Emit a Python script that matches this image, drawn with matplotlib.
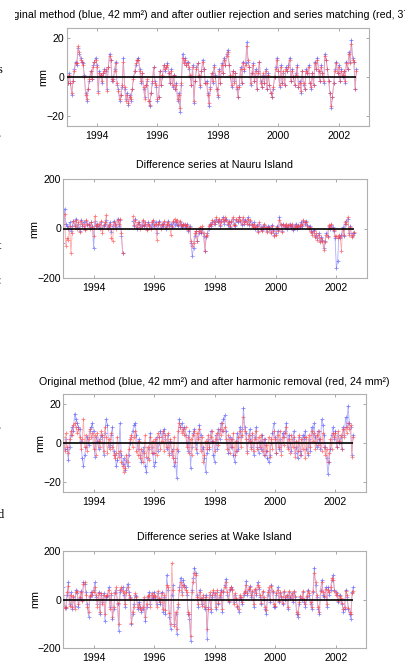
import matplotlib.pyplot as plt
import numpy as np
from matplotlib.transforms import Bbox, TransformedBbox

plt.rcParams['font.family'] = ['Liberation Sans', 'DejaVu Sans']

nan = np.nan

# samples every half month, first one at 1993.0
t_start = 1993.0
per_year = 24

# original method (blue), same series in panel 1 and 3, mm
orig = [0, -3, 2, -3, -9, -2, 4, 8, 6, 15, 12, 10, 8, 7, 1, -8, -12, -6, -2, 3, -1, 6, 8, 10,
        6, -7, 3, 1, -3, 2, 4, 3, -6, 5, 12, 9, -2, -1, 4, 8, -4, -6, -12, -9, -5, 10, -6, -11,
        -8, -14, -9, -12, -6, 0, 3, 6, 9, 10, 4, -3, 2, -6, -10, -4, -2, -12, -15, -8, -3, 5, -2, -5,
        -12, -10, 3, -4, 0, 6, 3, 5, 7, 2, -3, 4, -5, 1, -6, -3, -12, -8, -18, -4, 12, 8, 10, 6,
        8, 4, 0, -4, 6, -13, -2, 5, 7, 0, -5, 3, 9, 4, -3, -2, -8, -15, -5, 2, -3, 6, 1, -6,
        -10, 4, -3, 7, 2, 10, 6, 12, 14, 6, 0, -5, 3, -2, 2, -6, -10, -4, 5, -3, 8, 3, 7, 18,
        8, 5, -4, 2, 7, -2, 4, -6, 3, 8, -2, -5, 1, -3, 4, -6, 2, -4, -8, -10, -6, 0, 5, 10,
        3, -5, 6, -3, 2, -4, 5, 3, 6, 10, -2, 4, 0, -4, 2, 6, -5, -2, -8, 3, -4, -6, 4, 2,
        6, -3, -6, 2, -4, 8, 4, 10, 3, -2, 6, 2, -3, 12, 9, 4, -2, -8, -16, -10, -3, 4, 8, 2,
        6, -2, 4, 0, 3, -3, 8, 4, 13, 8, 19, 10, 8, -6, 4]

# after outlier rejection and series matching (red, panel 1)
matched = [-2, -3, 1, -3, -8, -2, 3, 7, 7, 16, 13, 9, 8, 6, 0, -9, -11, -6, -1, 3, -1, 5, 8, 9,
           5, -8, 2, 1, -2, 2, 3, 4, -7, 5, 11, 9, -1, -2, 3, 7, -3, -7, -11, -9, -4, 8, -5, -12,
           -9, -13, -10, -11, -6, -1, 3, 7, 9, 9, 3, -2, 2, -5, -11, -4, -1, -12, -14, -8, -2, 5, -3, -4,
           -11, -10, 3, -4, 1, 6, 4, 5, 6, 2, -3, 3, -4, 1, -6, -4, -11, -9, -16, -3, 10, 7, 9, 6,
           7, 5, 1, -4, 5, -12, -2, 4, 7, 1, -4, 3, 8, 4, -3, -3, -9, -13, -6, 2, -2, 5, 0, -6,
           -9, 3, -3, 6, 2, 9, 6, 11, 13, 6, 1, -4, 3, -3, 2, -5, -10, -5, 4, -3, 7, 4, 6, 16,
           9, 5, -3, 2, 6, -2, 3, -6, 2, 8, -3, -5, 2, -3, 3, -6, 1, -4, -8, -10, -5, 0, 4, 9,
           3, -4, 5, -3, 3, -4, 4, 3, 5, 9, -2, 3, 0, -4, 1, 5, -5, -3, -7, 3, -3, -6, 3, 2,
           5, -3, -5, 2, -4, 7, 4, 9, 3, -2, 5, 2, -2, 11, 9, 4, -2, -8, -15, -10, -3, 3, 7, 2,
           5, -2, 3, 1, 3, -2, 7, 4, 12, 7, 17, 9, 8, -6, 3]

# after harmonic removal (red, panel 3)
harmonic = [3, -4, 5, -2, -5, 2, 6, 4, 9, 10, 8, 5, 7, 3, -3, 2, 12, -2, 4, -4, 2, 7, 3, 5,
            -3, 4, -6, 5, 1, -2, 6, 4, -4, 8, 3, -5, 2, -3, 5, -2, -6, -8, -5, 3, -7, -4, -10, -12,
            -15, -13, -6, -10, -3, 2, 4, -2, 3, 6, -4, -6, 1, -8, -3, -10, -5, 4, -7, -2, -9, 3, -5, 1,
            -5, 2, -6, 5, 3, -3, 1, 6, -4, 4, -2, 5, -6, 2, -4, -8, 3, -10, -3, 6, 10, 8, 5, 7,
            4, 8, -2, 3, -5, 2, -6, 4, 6, -3, 5, 2, 7, -4, 3, -10, -6, 1, -3, 4, -2, 3, 6, 1,
            -4, 2, 5, -1, 7, 4, 10, 6, 8, 2, -3, 4, -5, 2, -2, 5, -6, 1, -4, 3, 6, -2, 4, 13,
            6, 2, -5, 4, 1, -3, 5, -4, 2, 6, -3, 3, -2, 4, -4, 2, -6, -1, -4, 3, -7, 2, -3, 6,
            2, -5, 4, -2, 6, -6, 3, -1, 5, 8, -3, 2, -5, 4, -2, 3, -7, 1, -4, 4, -6, 2, -3, 3,
            -8, 3, -5, 4, -2, 6, 1, 5, -3, 4, -1, 6, 2, -4, 5, -2, -6, -3, -10, -5, 2, -3, 5, 3,
            5, -2, 6, 1, 4, -3, 7, 3, 8, 5, 10, 7, 9, -7, 3]

# difference series at Nauru Island, mm (gap early 1995)
nauru_orig = [-60, 80, 20, 10, 0, 25, -10, 10, 30, 15, 40, 5, 20, -10, 35, 10, 25, 0, 30, 15, 20, 5, 25, 10,
              -80, 30, 10, 20, 5, 15, 25, 0, 10, 20, 35, 5, 15, 25, -15, 10, 30, 20, 5, 40, 10, 35, -30, -100,
              nan, nan, nan, nan, nan, nan, nan, 30, 10, 40, 0, 20, 25, 5, 15, 30, 10, 20, 0, 25, 15, 5, 20, 30,
              10, 25, -20, 15, 30, 5, 20, 10, 25, 0, 15, 30, 10, 20, 5, 25, 15, 30, 20, 10, 25, 15, 5, 20,
              15, 5, 20, -10, 10, -60, -110, -80, -30, -10, -50, -20, 0, -20, 0, -30, -90, -35, -20, 0, 20, 10, 25, 30,
              20, 40, 25, 35, 10, 30, 45, 20, 35, 40, 15, 30, 5, 25, 40, 20, 10, 35, 25, 45, 30, 15, 40, 20,
              35, 25, 45, 15, 30, 20, 10, 25, 0, 15, -10, 20, 5, -5, 10, 15, 0, -10, 10, 5, -15, 15, -5, -25,
              -20, 10, -5, 45, 15, -10, 20, 5, 15, 0, 10, 20, 5, 15, -5, 10, 20, 0, 15, 5, 25, 10, 30, 20,
              30, 15, 5, 10, -10, -20, -5, -30, -25, -40, -20, -50, -35, -45, -80, -50, -20, -30, 10, 0, 15, 5, -10, -40,
              -160, -130, -30, -40, -25, 5, -30, 20, 30, 40, -20, 10, -30, -20, -20]

nauru_new = [20, 60, -70, -40, -45, 10, -100, -20, 30, 10, 35, 0, 25, -15, 30, 20, 10, -5, 35, 20, 15, 0, 25, 5,
             -30, 50, 15, 10, 20, 0, 30, -20, 15, 25, 55, 0, 10, 20, -40, -50, 25, 15, 0, 35, 20, 40, -20, -100,
             nan, nan, nan, nan, nan, nan, nan, 50, 15, 35, 5, 25, 20, 0, 10, 35, 15, 25, -5, 20, 10, 0, 25, 35,
             15, 20, -45, 20, 25, 0, 15, 20, 30, 5, 20, 25, 15, -25, 10, 30, 40, 25, 35, 15, 30, 20, 10, 15,
             20, 10, 15, -5, 5, -50, -70, -60, -20, -10, -50, -10, 5, -15, 10, -20, -90, -30, -25, 10, 15, 20, 35, 20,
             25, 45, 30, 40, 15, 25, 40, 30, 45, 35, 20, 25, 10, 30, 45, 15, 15, 40, 30, 45, 35, 20, 45, 25,
             30, 20, 40, 20, 35, 15, 5, 20, 5, 10, -15, 25, 0, -10, 5, 20, 5, -15, 5, 0, -20, 10, -10, -30,
             -25, 5, -10, 35, 20, -15, 15, 10, 20, 5, 15, 15, 10, 20, 0, 5, 15, 5, 10, 10, 20, 15, 35, 25,
             25, 10, 0, 5, -15, -25, -10, -35, -20, -45, -25, -55, -40, -50, -85, -55, -25, -35, 15, 5, 20, 0, -5, -30,
             -30, -40, -25, -35, -90, 0, -25, 25, 20, 45, -25, 5, -35, -25, -15]

# difference series at Wake Island, mm
wake_orig = [50, -30, -35, 20, 70, -20, 30, -40, 10, -25, 40, 25, -30, 5, 35, 0, 70, 65, 30, -20, -70, 10, 30, 20,
             40, 70, 10, -20, 30, -60, 20, -10, 25, -90, 10, 15, 50, -30, 20, -80, -40, 30, 40, -20, -130, 30, 45, 50,
             20, -30, 40, 65, 30, 10, -100, -60, -20, 20, 15, -40, -10, -30, -50, -40, 0, -90, -30, 10, 30, -20, 20, 5,
             30, 10, -20, 25, 0, -20, 30, -50, 10, -60, 100, 40, -70, -120, 20, 60, -100, -60, -140, -30, 50, 90, 30, 80,
             60, 50, 20, -60, -80, -170, 40, 90, 130, 110, 20, -30, 40, 0, -20, 10, -40, 20, -160, -30, 20, -50, 10, 30,
             20, -40, 30, -20, 10, 40, -50, 30, 60, 85, 20, -10, 40, 50, 45, -10, 20, 0, -30, -50, 10, 0, -20, 20,
             30, 75, 20, 40, 55, 10, 30, -30, 40, 20, 70, 45, 10, -20, 30, 0, -40, -60, 20, 40, -10, 60, 30, -30,
             -30, 20, 50, -10, 25, 10, -20, 30, 0, 15, -40, 30, 5, 20, -10, 30, 10, -60, -70, -20, 10, 0, 30, -10,
             -30, 10, 40, 20, -20, -40, 30, 130, 60, 10, -40, -60, 40, 80, 20, 10, 50, -30, 50, 20, 40, 80, 100, 40,
             30, 20, -10, 20, 0, -20, -50, -40, 40, 10, -40, -60, -80, 30, 50]

wake_new = [20, -35, -30, 30, 55, -25, 20, -30, 15, -40, 30, 35, -20, 10, 30, -5, 65, 70, 20, -30, -50, 15, 20, 30,
            30, 50, 20, -30, 25, -50, 25, -20, 20, -60, 15, 20, 40, -40, 25, -70, -30, 25, 50, -15, -100, 40, 50, 35,
            25, -20, 30, 50, 20, 5, -95, -50, -30, 25, 10, -30, -20, -35, -45, -30, 10, -70, -20, 15, 20, -30, 25, 10,
            20, 15, -30, 35, 5, -10, 25, -40, 20, -45, 60, 50, -55, -100, 150, 40, -110, -50, -120, -20, 40, 70, 20, 60,
            50, 40, 30, -50, -60, -150, 30, 70, 110, 100, 10, -20, 30, 5, -25, 20, -30, 10, -120, -40, 30, -40, 20, 40,
            25, -30, 40, -15, 20, 30, -40, 35, 50, 70, 30, -5, 45, 50, 40, -20, 25, 5, -25, -40, 20, 10, -10, 25,
            35, 60, 25, 45, 50, 20, 35, -20, 45, 25, 60, 50, 20, -15, 35, 10, -30, -45, 30, 50, 0, 55, 35, -20,
            -25, 25, 40, -5, 30, 15, -15, 35, 10, 20, -30, 35, 10, 25, 0, 35, 15, -50, -60, -10, 15, 5, 35, 0,
            -20, 15, 35, 25, -10, -30, 35, 110, 70, 20, -30, -50, 35, 70, 30, 15, 45, -20, 40, 30, 50, 90, 80, 35,
            20, 25, -5, 15, 5, -15, -40, -30, 35, 20, -35, -50, -60, 25, 35]

titles = ['Original method (blue, 42 mm\u00b2) and after outlier rejection and series matching (red, 37 mm\u00b2)',
          'Difference series at Nauru Island',
          'Original method (blue, 42 mm\u00b2) and after harmonic removal (red, 24 mm\u00b2)',
          'Difference series at Wake Island']
year_ticks = [1994, 1996, 1998, 2000, 2002]

W, H = 406, 665
fig = plt.figure(figsize=(W / 100, H / 100), dpi=100)


def box(l, t, r, b):
    return [l / W, 1 - b / H, (r - l) / W, (b - t) / H]


panels = [
    (box(66.7, 28.3, 369, 126), orig, matched, 25, 20, 15, 43),
    (box(63.3, 179, 366.7, 278), nauru_orig, nauru_new, 200, 200, 165, 34),
    (box(63.3, 394, 365.7, 491.7), orig, harmonic, 25, 20, 382, 40),
    (box(63.3, 550.7, 366, 648.3), wake_orig, wake_new, 200, 200, 537, 35),
]

for k, (pos, blue, red, lim, step, ty, lx) in enumerate(panels):
    ax = fig.add_axes(pos)
    tb = t_start + np.arange(len(blue)) / per_year
    tr = t_start + np.arange(len(red)) / per_year
    ax.plot(tb, blue, '-', color=(0.6, 0.6, 1.0), lw=0.6, alpha=0.8)
    ax.plot(tb, blue, '+', color=(0.25, 0.25, 1.0), ms=3, mew=0.6, alpha=0.6)
    ax.plot(tr, red, '-', color=(1.0, 0.6, 0.6), lw=0.6, alpha=0.8)
    ax.plot(tr, red, '+', color=(1.0, 0.2, 0.2), ms=3, mew=0.6, alpha=0.6)
    ax.hlines(0, tb[0], tb[-1], color='k', lw=1.2, zorder=5)

    ax.set_xlim(1993, 2003)
    ax.set_ylim(-lim, lim)
    ax.set_xticks(year_ticks)
    ax.set_yticks([-step, 0, step])
    ax.tick_params(direction='in', length=2.5, width=0.6, color='#999999',
                   labelsize=7.6, top=True, right=True)
    ax.tick_params(axis='x', pad=3.5)
    ax.tick_params(axis='y', pad=1.5)
    for s in ax.spines.values():
        s.set_color('#b0b0b0')
        s.set_linewidth(0.8)

    cx = (pos[0] + pos[2] / 2)
    title = fig.text(cx, 1 - ty / H, titles[k], ha='center', va='center', fontsize=7.7)
    if k == 0:
        # the first title was clipped by the original figure window
        title.set_clip_box(TransformedBbox(Bbox([[15 / W, 0], [1, 1]]), fig.transFigure))
        title.set_clip_on(True)
    fig.text(lx / W, pos[1] + pos[3] / 2, 'mm', rotation=90,
             ha='center', va='center', fontsize=7.8)

# bits of the surrounding page text cut by the crop
side_text = ['s', ',', 't', ':', ',', 'd']
side_y = [70, 133, 246, 281, 425, 515]
for s, y in zip(side_text, side_y):
    fig.text(-0.006, 1 - y / H, s, ha='left', va='center',
             fontsize=9, family='Liberation Serif')

fig.savefig('out.png', dpi=100)
